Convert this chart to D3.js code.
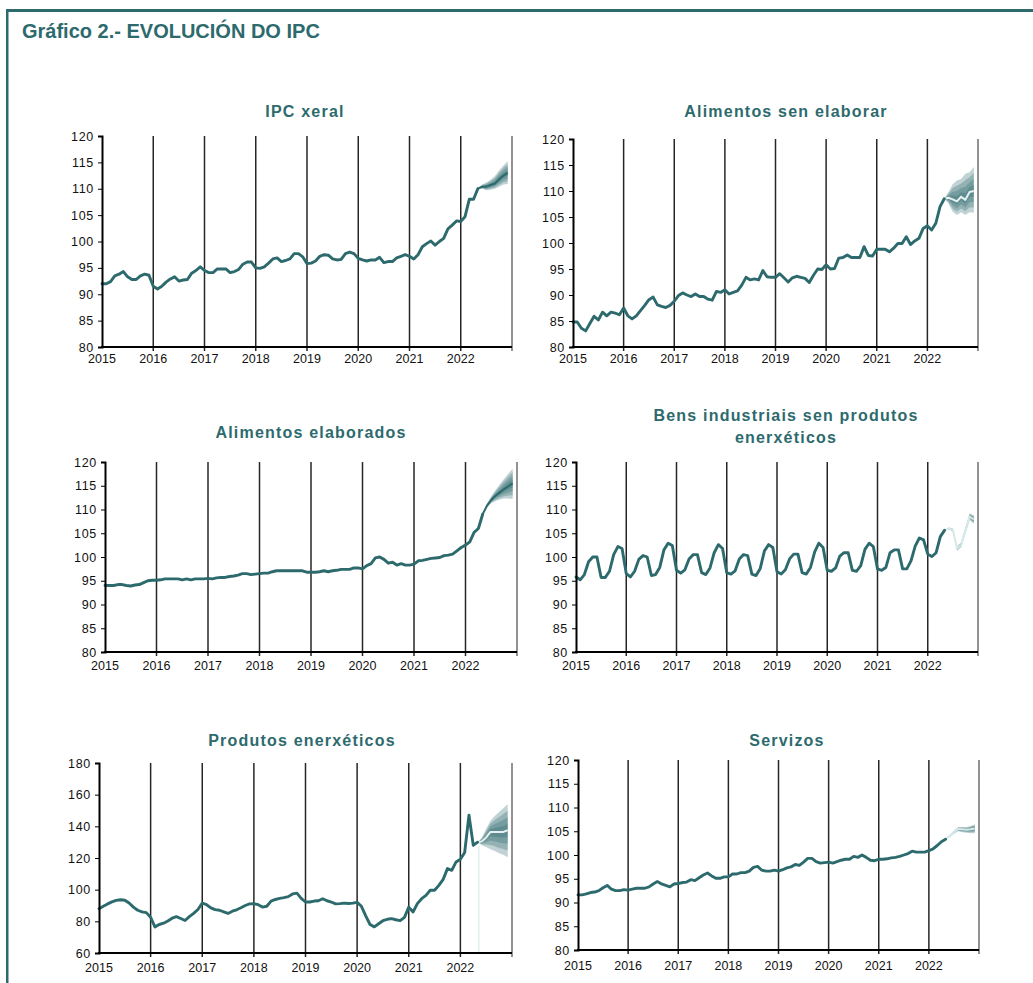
<!DOCTYPE html>
<html>
<head>
<meta charset="utf-8">
<script src="https://cdn.jsdelivr.net/npm/d3@7"></script>
<style>
  html, body { margin: 0; padding: 0; background: #ffffff; }
  svg { display: block; font-family: "Liberation Sans", Arial, sans-serif; }
</style>
</head>
<body>
<svg id="chart" width="1033" height="983"></svg>
<script>
// ---------------- DATA ----------------
const yearLabels = ["2015", "2016", "2017", "2018", "2019", "2020", "2021", "2022"];
const yTicksStd = [80, 85, 90, 95, 100, 105, 110, 115, 120];
const yTicksEnergy = [60, 80, 100, 120, 140, 160, 180];

// Monthly observed values, Jan 2015 - May 2022
const ipcXeral = [92.0,92.0,92.4,93.5,93.8,94.3,93.3,92.8,92.8,93.5,93.8,93.6,
91.5,91.0,91.5,92.3,92.9,93.3,92.5,92.7,92.8,94.0,94.5,95.2,
94.5,94.1,94.1,94.8,94.8,94.8,94.1,94.3,94.7,95.7,96.1,96.1,
95.0,94.9,95.2,95.9,96.7,96.9,96.2,96.4,96.7,97.7,97.7,97.1,
95.8,95.9,96.3,97.2,97.5,97.4,96.7,96.5,96.6,97.7,98.0,97.7,
96.8,96.5,96.3,96.5,96.5,97.0,96.0,96.2,96.2,96.9,97.2,97.5,
97.2,96.7,97.5,99.0,99.6,100.1,99.3,100.0,100.6,102.4,103.1,103.9,
103.8,104.7,108.0,108.0,110.0];
const alimentosSenElaborar = [84.8,84.8,83.6,83.1,84.5,85.9,85.2,86.7,86.0,86.7,86.5,86.2,
87.5,86.0,85.4,86.0,87.0,88.0,89.1,89.6,88.1,87.8,87.6,88.0,
88.8,89.9,90.4,90.0,89.7,90.2,89.7,89.7,89.2,89.0,90.7,90.5,
91.0,90.2,90.5,90.8,91.9,93.4,92.9,93.1,92.9,94.7,93.5,93.4,
93.4,94.1,93.3,92.5,93.3,93.6,93.4,93.2,92.4,93.8,95.0,94.9,
95.8,95.0,95.1,97.1,97.2,97.7,97.2,97.2,97.2,99.3,97.6,97.5,
98.8,98.8,98.8,98.3,99.0,99.9,99.9,101.2,99.7,100.4,100.9,102.8,
103.3,102.5,103.8,107.0,108.5];
const alimentosElaborados = [94.0,94.0,94.0,94.2,94.2,94.0,93.9,94.1,94.2,94.6,95.0,95.1,
95.1,95.2,95.4,95.4,95.4,95.4,95.2,95.4,95.2,95.4,95.4,95.4,
95.5,95.4,95.6,95.7,95.7,95.9,96.0,96.2,96.5,96.5,96.3,96.4,
96.5,96.6,96.6,96.9,97.1,97.1,97.1,97.1,97.1,97.1,97.1,96.8,
96.8,96.8,96.9,97.1,96.9,97.1,97.2,97.4,97.4,97.4,97.7,97.7,
97.5,98.2,98.6,99.8,100.0,99.5,98.7,98.9,98.3,98.6,98.3,98.3,
98.5,99.2,99.3,99.5,99.7,99.8,99.9,100.3,100.4,100.6,101.3,102.0,
102.5,103.2,105.2,106.0,109.0];
const bensIndustriais = [95.8,95.2,96.3,99.0,100.0,100.0,95.7,95.7,97.0,100.5,102.2,101.8,
96.5,95.8,97.0,99.5,100.3,100.0,96.1,96.3,97.8,101.5,102.9,102.4,
97.2,96.6,97.3,99.6,100.5,100.5,96.7,96.3,97.7,100.9,102.6,101.8,
96.7,96.4,97.1,99.6,100.5,100.3,96.4,96.1,97.6,101.3,102.6,102.0,
96.9,96.4,97.3,99.6,100.6,100.6,96.7,96.4,97.8,101.1,102.9,102.0,
97.2,97.0,97.7,100.2,100.9,100.9,97.2,97.0,98.2,101.6,102.9,102.2,
97.5,97.2,97.8,100.9,101.5,101.5,97.5,97.5,99.2,102.3,104.0,103.6,
100.6,100.1,100.9,104.3,105.6];
const produtosEnerxeticos = [88.0,89.5,91.0,92.3,93.2,93.6,93.3,91.6,89.0,87.0,86.0,85.5,
82.5,76.5,78.0,78.8,80.2,82.0,83.0,81.8,80.5,83.0,85.0,87.5,
91.5,90.5,88.5,87.4,87.0,86.0,85.0,86.4,87.3,88.6,90.0,91.0,
91.2,90.5,89.0,89.5,92.8,93.8,94.5,95.0,95.6,97.3,97.8,94.5,
92.2,92.2,92.8,93.0,94.3,93.0,92.2,91.0,91.2,91.5,91.3,91.5,
92.0,89.5,83.5,78.0,76.5,78.5,80.4,81.3,81.7,81.0,80.4,82.5,
89.0,85.9,91.2,94.3,96.4,99.6,99.6,102.7,106.5,113.3,112.2,117.5,
119.2,123.5,147.0,128.0,130.0];
const servizos = [91.6,91.6,91.8,92.1,92.2,92.5,93.1,93.6,92.8,92.5,92.5,92.7,
92.6,92.8,93.0,93.0,93.0,93.3,93.9,94.4,93.9,93.6,93.3,93.9,
94.0,94.2,94.3,94.8,94.6,95.2,95.8,96.2,95.6,95.1,95.1,95.4,
95.4,96.0,96.0,96.3,96.3,96.6,97.4,97.6,96.8,96.6,96.6,96.8,
96.6,96.9,97.3,97.5,98.0,97.8,98.5,99.3,99.3,98.6,98.3,98.4,
98.5,98.3,98.6,98.9,99.1,99.1,99.7,99.5,100.0,99.5,98.9,98.8,
99.1,99.1,99.2,99.4,99.5,99.7,100.0,100.3,100.8,100.6,100.6,100.6,
100.9,101.3,102.0,102.8,103.3];

// Forecast Jun - Dec 2022: central path and outer band limits
const ipcXeralFc   = [110.4,110.4,110.7,111.0,111.8,112.5,113.0];
const ipcXeralHi   = [110.8,111.2,111.7,112.4,113.5,114.4,115.2];
const ipcXeralLo   = [110.0,109.7,109.8,110.0,110.4,110.8,110.9];
const senElabFc    = [108.7,108.4,108.0,108.9,108.3,109.8,110.0];
const senElabHi    = [109.8,111.3,112.0,112.3,113.3,113.6,114.6];
const senElabLo    = [107.6,106.0,105.4,105.9,105.4,105.9,105.8];
const elabFc       = [110.8,112.0,112.9,113.6,114.3,114.9,115.5];
const elabHi       = [111.2,112.8,114.1,115.3,116.5,117.6,118.6];
const elabLo       = [110.4,111.3,111.8,112.1,112.3,112.3,112.2];
const bensFc       = [106.0,105.7,101.8,102.6,105.6,108.5,107.9];
const bensHi       = [106.2,106.0,102.2,103.1,106.2,109.2,108.8];
const bensLo       = [105.8,105.4,101.3,102.1,105.0,107.8,107.0];
const enerFc       = [130.5,133.0,136.5,136.5,136.5,136.5,137.5];
const enerHi       = [133.0,138.5,143.5,146.5,149.0,151.5,154.0];
const enerLo       = [128.0,127.0,125.5,124.5,123.0,122.0,120.5];
const servFc       = [104.0,104.8,105.5,105.4,105.3,105.4,105.6];
const servHi       = [104.2,105.1,105.9,105.9,105.9,106.1,106.5];
const servLo       = [103.8,104.5,105.0,104.8,104.7,104.6,104.6];

// ---------------- LAYOUT ----------------
const TEAL = "#2d6a6d";
const svg = d3.select("#chart");

// frame
svg.append("rect").attr("x", 6).attr("y", 9).attr("width", 1027).attr("height", 3).attr("fill", TEAL);
svg.append("rect").attr("x", 6).attr("y", 9).attr("width", 2.5).attr("height", 974).attr("fill", TEAL);

svg.append("text").attr("x", 22).attr("y", 38)
  .attr("font-size", 20).attr("font-weight", "bold").attr("fill", TEAL)
  .text("Gráfico 2.- EVOLUCIÓN DO IPC");

const panels = [
  { title: ["IPC xeral"], obs: ipcXeral, fc: ipcXeralFc, hi: ipcXeralHi, lo: ipcXeralLo,
    ticks: yTicksStd, box: { l: 102, r: 512, t: 136, b: 347 }, tx: 305, ty: [117], ly: 363, center: TEAL },
  { title: ["Alimentos sen elaborar"], obs: alimentosSenElaborar, fc: senElabFc, hi: senElabHi, lo: senElabLo,
    ticks: yTicksStd, box: { l: 573, r: 978, t: 139, b: 347 }, tx: 786, ty: [117], ly: 363, center: "#e6f1f1" },
  { title: ["Alimentos elaborados"], obs: alimentosElaborados, fc: elabFc, hi: elabHi, lo: elabLo,
    ticks: yTicksStd, box: { l: 105, r: 517, t: 462, b: 652 }, tx: 311, ty: [438], ly: 670, center: TEAL },
  { title: ["Bens industriais sen produtos", "enerxéticos"], obs: bensIndustriais, fc: bensFc, hi: bensHi, lo: bensLo,
    ticks: yTicksStd, box: { l: 576, r: 978, t: 462, b: 652 }, tx: 786, ty: [421, 443], ly: 670, center: "#d6e8e8" },
  { title: ["Produtos enerxéticos"], obs: produtosEnerxeticos, fc: enerFc, hi: enerHi, lo: enerLo,
    ticks: yTicksEnergy, box: { l: 99, r: 512, t: 763, b: 953 }, tx: 302, ty: [746], ly: 972, center: "#e6f1f1", drop: true },
  { title: ["Servizos"], obs: servizos, fc: servFc, hi: servHi, lo: servLo,
    ticks: yTicksStd, box: { l: 578, r: 979, t: 760, b: 950 }, tx: 787, ty: [746], ly: 970, center: "#d6e8e8" }
];

const nMonths = 96;

panels.forEach(p => {
  const g = svg.append("g");
  const { l, r, t, b } = p.box;
  const x = d3.scaleLinear().domain([0, nMonths]).range([l, r]);
  const y = d3.scaleLinear().domain(d3.extent(p.ticks)).range([b, t]);

  // title
  p.title.forEach((s, i) => {
    g.append("text").attr("x", p.tx).attr("y", p.ty[i])
      .attr("text-anchor", "middle").attr("font-size", 16).attr("font-weight", "bold")
      .attr("letter-spacing", 1.2).attr("fill", TEAL).text(s);
  });

  // vertical year lines
  for (let k = 1; k <= yearLabels.length; k++) {
    g.append("line")
      .attr("x1", x(12 * k)).attr("x2", x(12 * k))
      .attr("y1", t).attr("y2", b + 4)
      .attr("stroke", k === yearLabels.length ? "#6e6e6e" : "#262626")
      .attr("stroke-width", 1.5);
  }

  // forecast fan
  const last = p.obs.length - 1;
  const fan = p.fc.map((c, i) => ({ i: last + 1 + i, c, hi: p.hi[i], lo: p.lo[i] }));
  const fanAll = [{ i: last, c: p.obs[last], hi: p.obs[last], lo: p.obs[last] }].concat(fan);
  if (p.drop) {
    g.append("line").attr("x1", x(last + 0.3)).attr("x2", x(last + 0.3))
      .attr("y1", y(p.ticks[0])).attr("y2", y(p.lo[0]))
      .attr("stroke", "#d3e5e6").attr("stroke-width", 1);
  }
  [1, 0.75, 0.5, 0.25].forEach(f => {
    const area = d3.area()
      .x(d => x(d.i))
      .y0(d => y(d.c - f * (d.c - d.lo)))
      .y1(d => y(d.c + f * (d.hi - d.c)))
      .curve(d3.curveLinear);
    g.append("path").datum(fanAll).attr("d", area)
      .attr("fill", TEAL).attr("fill-opacity", 0.3);
  });
  g.append("path").datum(fanAll)
    .attr("d", d3.line().x(d => x(d.i)).y(d => y(d.c)))
    .attr("fill", "none").attr("stroke", p.center).attr("stroke-width", 2)
    .attr("stroke-linejoin", "round");

  // observed line
  g.append("path").datum(p.obs)
    .attr("d", d3.line().x((d, i) => x(i)).y(d => y(d)))
    .attr("fill", "none").attr("stroke", TEAL).attr("stroke-width", 2.9)
    .attr("stroke-linejoin", "round").attr("stroke-linecap", "round");

  // y axis
  const ya = g.append("g").attr("transform", `translate(${l},0)`)
    .call(d3.axisLeft(y).tickValues(p.ticks).tickSize(4).tickPadding(4).tickFormat(d3.format("d")));
  ya.select(".domain").attr("stroke", "#000").attr("stroke-width", 2);
  ya.selectAll(".tick line").attr("stroke", "#000").attr("stroke-width", 1);
  ya.selectAll(".tick text").attr("font-size", 12.5).attr("fill", "#111")
    .attr("letter-spacing", 0.7)
    .attr("font-family", "Liberation Sans, Arial, sans-serif");

  // x axis line
  g.append("line").attr("x1", l - 1).attr("x2", r).attr("y1", b).attr("y2", b)
    .attr("stroke", "#000").attr("stroke-width", 2);
  yearLabels.forEach((s, k) => {
    g.append("text").attr("x", x(12 * k)).attr("y", p.ly)
      .attr("text-anchor", "middle").attr("font-size", 12.5).attr("fill", "#111").text(s);
  });
});
</script>
</body>
</html>
